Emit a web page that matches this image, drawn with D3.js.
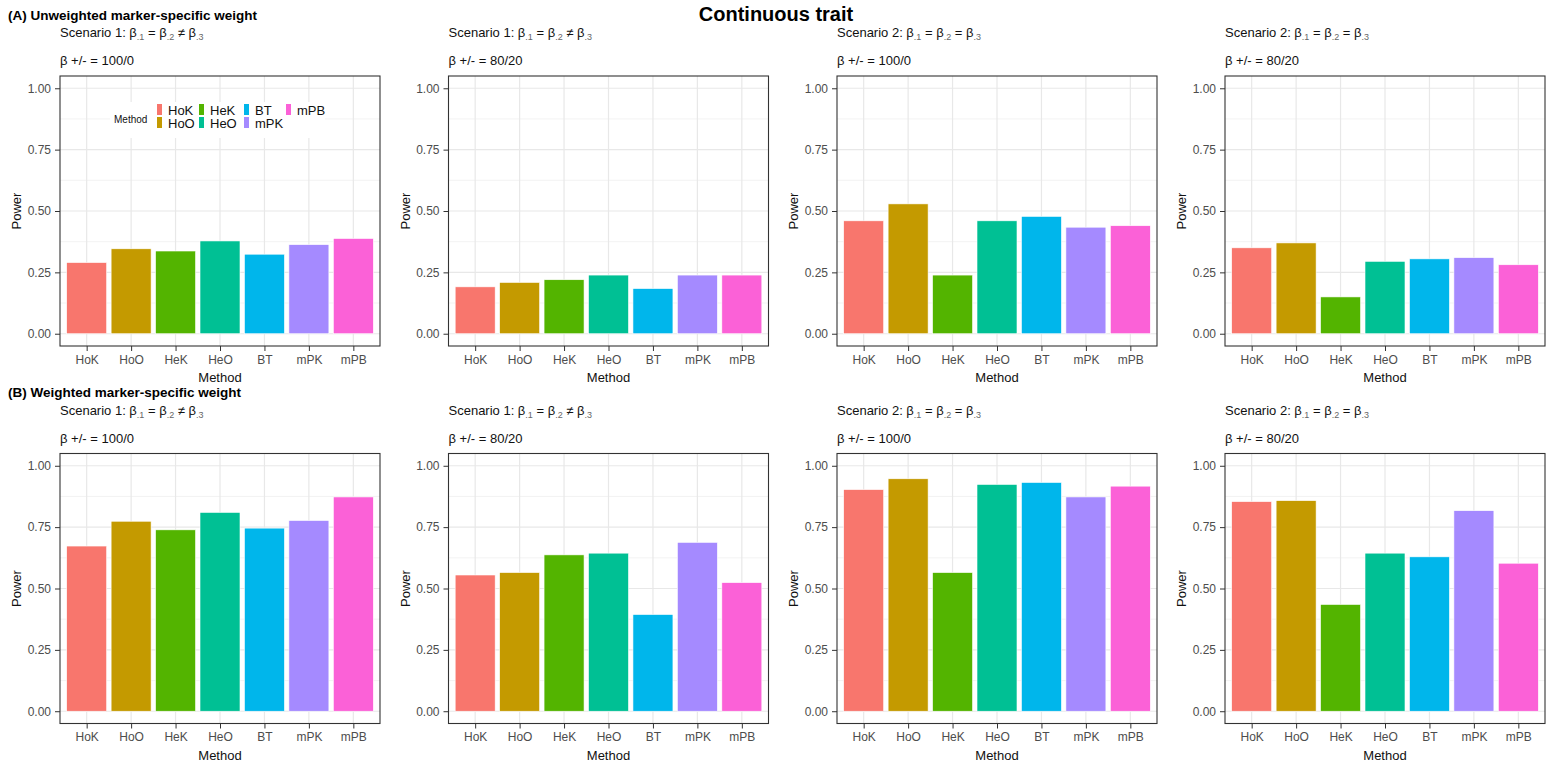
<!DOCTYPE html>
<html>
<head>
<meta charset="utf-8">
<script src="https://cdn.jsdelivr.net/npm/d3@7"></script>
<style>
  body { margin: 0; background: #fff; }
  text { font-family: "Liberation Sans", Arial, sans-serif; }
</style>
</head>
<body>
<div id="chart"></div>
<script>
const width = 1556, height = 767;

// data
const methods = ["HoK", "HoO", "HeK", "HeO", "BT", "mPK", "mPB"];
const colors = ["#F8766D", "#C49A00", "#53B400", "#00C094", "#00B6EB", "#A58AFF", "#FB61D7"];
const yTicks = [0, 0.25, 0.5, 0.75, 1];

const rowTitles = ["(A) Unweighted marker-specific weight", "(B) Weighted marker-specific weight"];
const scenarios = [1, 1, 2, 2];
const scenarioOps = [["=", "≠"], ["=", "≠"], ["=", "="], ["=", "="]];
const betaSplits = ["100/0", "80/20", "100/0", "80/20"];

// row A : unweighted
const powerA1 = [0.290, 0.346, 0.337, 0.378, 0.324, 0.363, 0.388];
const powerA2 = [0.191, 0.209, 0.220, 0.239, 0.184, 0.239, 0.239];
const powerA3 = [0.460, 0.529, 0.239, 0.460, 0.478, 0.434, 0.440];
const powerA4 = [0.350, 0.370, 0.150, 0.295, 0.305, 0.310, 0.281];
// row B : weighted
const powerB1 = [0.673, 0.774, 0.739, 0.810, 0.746, 0.777, 0.873];
const powerB2 = [0.555, 0.565, 0.637, 0.644, 0.394, 0.688, 0.524];
const powerB3 = [0.903, 0.947, 0.565, 0.924, 0.932, 0.873, 0.917];
const powerB4 = [0.854, 0.858, 0.435, 0.644, 0.629, 0.817, 0.603];

const rows = [[powerA1, powerA2, powerA3, powerA4], [powerB1, powerB2, powerB3, powerB4]];

const panelLeft = [60, 448.5, 837, 1225];
const panelW = 320;
const panelTop = [76, 453.5];
const panelH = 270;

const svg = d3.select("#chart").append("svg")
  .attr("width", width)
  .attr("height", height);

svg.append("text")
  .attr("x", 776).attr("y", 21)
  .attr("text-anchor", "middle")
  .style("font-size", "20px").style("font-weight", "bold")
  .text("Continuous trait");

const color = d3.scaleOrdinal().domain(methods).range(colors);

rows.forEach((row, r) => {
  const top = panelTop[r];

  svg.append("text")
    .attr("x", 8).attr("y", top - 56.5)
    .style("font-size", "13.5px").style("font-weight", "bold")
    .text(rowTitles[r]);

  row.forEach((values, c) => {
    const left = panelLeft[c];
    const g = svg.append("g").attr("transform", `translate(${left},${top})`);

    // ggplot style expansion : 0.6 units each side on discrete, 5% on continuous
    const x = d3.scaleLinear().domain([0.4, methods.length + 0.6]).range([0, panelW]);
    const y = d3.scaleLinear().domain([-0.05, 1.05]).range([panelH, 0]);

    // header
    const sc = svg.append("text")
      .attr("x", left).attr("y", top - 39)
      .style("font-size", "13px").attr("fill", "#111");
    sc.append("tspan").text(`Scenario ${scenarios[c]}: β`);
    sc.append("tspan").attr("dy", 3).style("font-size", "9px").attr("fill", "#666").text(".1");
    sc.append("tspan").attr("dy", -3).text(" " + scenarioOps[c][0] + " β");
    sc.append("tspan").attr("dy", 3).style("font-size", "9px").attr("fill", "#666").text(".2");
    sc.append("tspan").attr("dy", -3).text(" " + scenarioOps[c][1] + " β");
    sc.append("tspan").attr("dy", 3).style("font-size", "9px").attr("fill", "#666").text(".3");

    svg.append("text")
      .attr("x", left).attr("y", top - 11)
      .style("font-size", "13px").attr("fill", "#111")
      .text(`β +/- = ${betaSplits[c]}`);

    // minor grid
    g.selectAll("line.minor")
      .data([0.125, 0.375, 0.625, 0.875])
      .enter().append("line")
        .attr("x1", 0).attr("x2", panelW)
        .attr("y1", d => y(d)).attr("y2", d => y(d))
        .attr("stroke", "#F0F0F0").attr("stroke-width", 0.8);
    // major grid
    g.selectAll("line.majory")
      .data(yTicks)
      .enter().append("line")
        .attr("x1", 0).attr("x2", panelW)
        .attr("y1", d => y(d)).attr("y2", d => y(d))
        .attr("stroke", "#E8E8E8").attr("stroke-width", 1.2);
    g.selectAll("line.majorx")
      .data(methods)
      .enter().append("line")
        .attr("x1", (d, i) => x(i + 1)).attr("x2", (d, i) => x(i + 1))
        .attr("y1", 0).attr("y2", panelH)
        .attr("stroke", "#E8E8E8").attr("stroke-width", 1.2);

    // legend box sits in first panel only
    if (r === 0 && c === 0) {
      const leg = svg.append("g");
      leg.append("rect")
        .attr("x", 110).attr("y", 102).attr("width", 215).attr("height", 36)
        .attr("fill", "white");
      leg.append("text")
        .attr("x", 114).attr("y", 123)
        .style("font-size", "10px").attr("fill", "#111")
        .text("Method");
      const colX = [157, 199, 244, 286];
      methods.forEach((m, i) => {
        const cx = colX[Math.floor(i / 2)];
        const cy = 104 + (i % 2) * 13;
        leg.append("rect")
          .attr("x", cx).attr("y", cy).attr("width", 5).attr("height", 11)
          .attr("fill", color(m));
        leg.append("text")
          .attr("x", cx + 11).attr("y", cy + 10.5)
          .style("font-size", "13px").attr("fill", "#111")
          .text(m);
      });
    }

    // bars
    g.selectAll("rect.bar")
      .data(values)
      .enter().append("rect")
        .attr("x", (d, i) => x(i + 1 - 0.45))
        .attr("width", x(0.9) - x(0))
        .attr("y", d => y(d))
        .attr("height", d => y(0) - y(d))
        .attr("fill", (d, i) => color(methods[i]))
        .attr("stroke", "white").attr("stroke-width", 0.6);

    // border
    g.append("rect")
      .attr("width", panelW).attr("height", panelH)
      .attr("fill", "none").attr("stroke", "#333").attr("stroke-width", 1.1);

    // axes
    const yAxis = g.append("g")
      .call(d3.axisLeft(y).tickValues(yTicks).tickFormat(d3.format(".2f")).tickSize(5).tickPadding(4));
    yAxis.select(".domain").remove();
    yAxis.selectAll("line").attr("stroke", "#333");
    yAxis.selectAll("text").style("font-size", "12px").attr("fill", "#4D4D4D")
      .style("font-family", "'Liberation Sans', Arial, sans-serif");

    const xAxis = g.append("g")
      .attr("transform", `translate(0,${panelH})`)
      .call(d3.axisBottom(x).tickValues(d3.range(1, methods.length + 1))
        .tickFormat(d => methods[d - 1]).tickSize(5).tickPadding(4));
    xAxis.select(".domain").remove();
    xAxis.selectAll("line").attr("stroke", "#333");
    xAxis.selectAll("text").style("font-size", "12px").attr("fill", "#4D4D4D")
      .style("font-family", "'Liberation Sans', Arial, sans-serif");

    g.append("text")
      .attr("x", panelW / 2).attr("y", panelH + 36)
      .attr("text-anchor", "middle")
      .style("font-size", "13px").attr("fill", "#111")
      .text("Method");

    g.append("text")
      .attr("transform", `translate(-39,${panelH / 2}) rotate(-90)`)
      .attr("text-anchor", "middle")
      .style("font-size", "13px").attr("fill", "#111")
      .text("Power");
  });
});
</script>
</body>
</html>
